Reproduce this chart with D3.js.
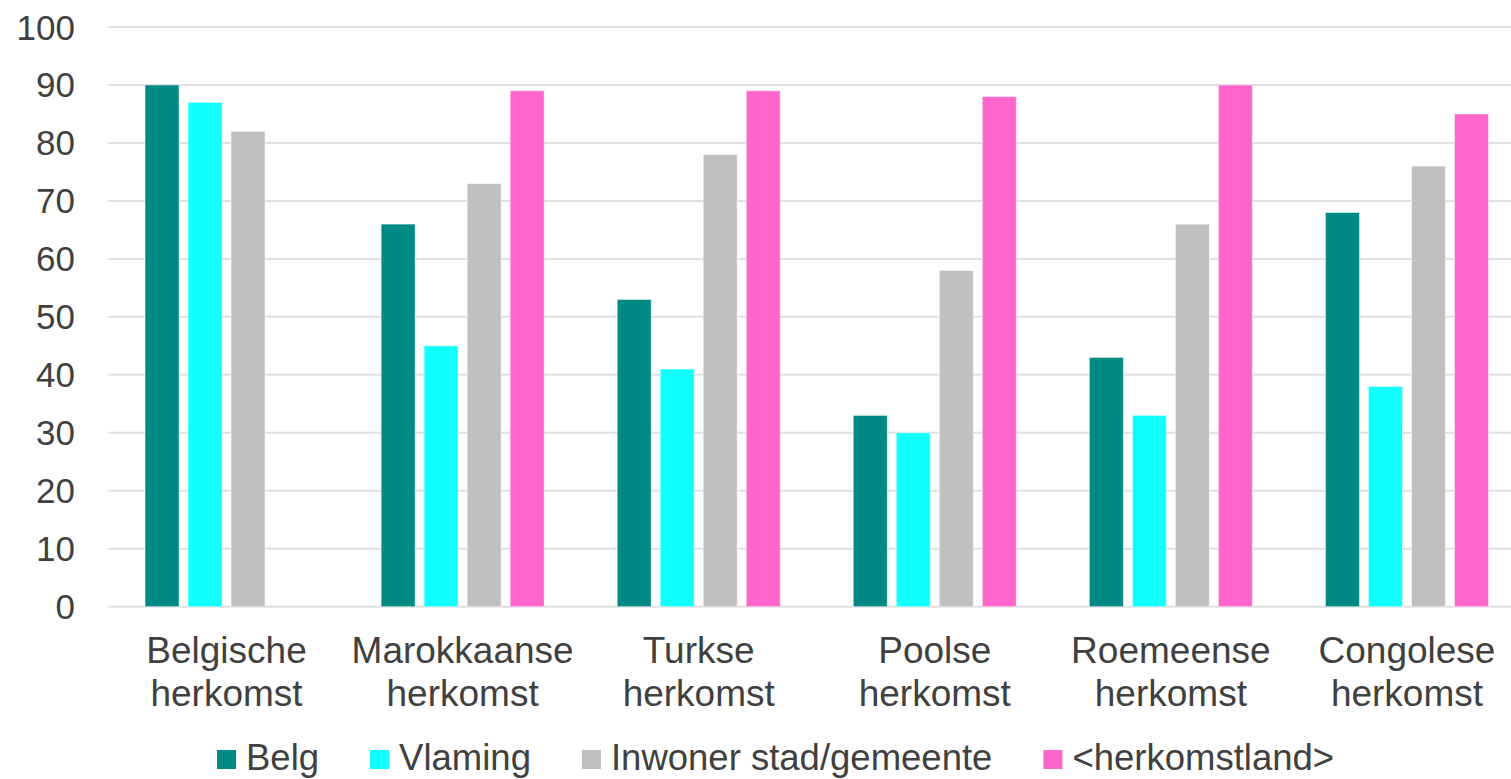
<!DOCTYPE html>
<html>
<head>
<meta charset="utf-8">
<script src="https://cdn.jsdelivr.net/npm/d3@7"></script>
<style>
  html, body { margin: 0; padding: 0; background: #fff; }
  svg { display: block; }
  text { font-family: "Liberation Sans", Arial, sans-serif; fill: #404040; }
</style>
</head>
<body>
<svg id="chart" width="1511" height="779"></svg>
<script>
const categories = [
  ["Belgische", "herkomst"],
  ["Marokkaanse", "herkomst"],
  ["Turkse", "herkomst"],
  ["Poolse", "herkomst"],
  ["Roemeense", "herkomst"],
  ["Congolese", "herkomst"]
];
const seriesNames = ["Belg", "Vlaming", "Inwoner stad/gemeente", "<herkomstland>"];
const belg = [90, 66, 53, 33, 43, 68];
const vlaming = [87, 45, 41, 30, 33, 38];
const inwoner = [82, 73, 78, 58, 66, 76];
const herkomstland = [null, 89, 89, 88, 90, 85];
const yTicks = [0, 10, 20, 30, 40, 50, 60, 70, 80, 90, 100];
const colors = ["#008A86", "#10FFFF", "#C0C0C0", "#FF66CC"];

(function () {
const seriesValues = [belg, vlaming, inwoner, herkomstland];
const svg = d3.select("#chart");
const W = 1511;
const plotLeft = 108.5, plotRight = 1525, plotTop = 27, plotBottom = 606.7;

const x0 = d3.scaleBand().domain(d3.range(categories.length)).range([plotLeft, plotRight]).padding(0);
const x1 = d3.scaleBand().domain(d3.range(seriesNames.length)).range([0, x0.bandwidth()])
  .paddingInner(9 / 43).paddingOuter(0.849);
const y = d3.scaleLinear().domain([0, 100]).range([plotBottom, plotTop]);

// gridlines
svg.append("g").selectAll("line").data(yTicks).join("line")
  .attr("x1", plotLeft).attr("x2", W)
  .attr("y1", d => y(d)).attr("y2", d => y(d))
  .attr("stroke", "#e0e0e0").attr("stroke-width", 2);

// y tick labels
svg.append("g").selectAll("text").data(yTicks).join("text")
  .attr("x", 75).attr("y", d => y(d) + 12.5)
  .attr("text-anchor", "end").attr("font-size", 35)
  .text(d => d);

// bars
const groups = svg.append("g").selectAll("g").data(categories).join("g")
  .attr("transform", (d, i) => `translate(${x0(i)},0)`);
groups.selectAll("rect")
  .data((d, i) => seriesValues.map((s, k) => ({k, v: s[i]})).filter(e => e.v != null))
  .join("rect")
  .attr("x", e => x1(e.k)).attr("width", x1.bandwidth())
  .attr("y", e => y(e.v)).attr("height", e => y(0) - y(e.v))
  .attr("fill", e => colors[e.k])
  .attr("stroke", "#ffffff").attr("stroke-opacity", 0.5).attr("stroke-width", 1);

// x labels
const xl = svg.append("g").selectAll("text").data(categories).join("text")
  .attr("text-anchor", "middle").attr("font-size", 37)
  .attr("x", (d, i) => x0(i) + x0.bandwidth() / 2)
  .attr("y", 663);
xl.selectAll("tspan").data(d => d).join("tspan")
  .attr("x", function() { return d3.select(this.parentNode).attr("x"); })
  .attr("dy", (d, j) => j === 0 ? 0 : 43)
  .text(d => d);

// legend
const leg = svg.append("g");
let lx = 217;
seriesNames.forEach((name, k) => {
  leg.append("rect").attr("x", lx).attr("y", 750).attr("width", 19).attr("height", 19)
    .attr("fill", colors[k]);
  const t = leg.append("text").attr("x", lx + 29).attr("y", 770)
    .attr("font-size", 36.5).text(name);
  const w = t.node().getComputedTextLength();
  lx = lx + 29 + w + 51;
});
})();
</script>
</body>
</html>
